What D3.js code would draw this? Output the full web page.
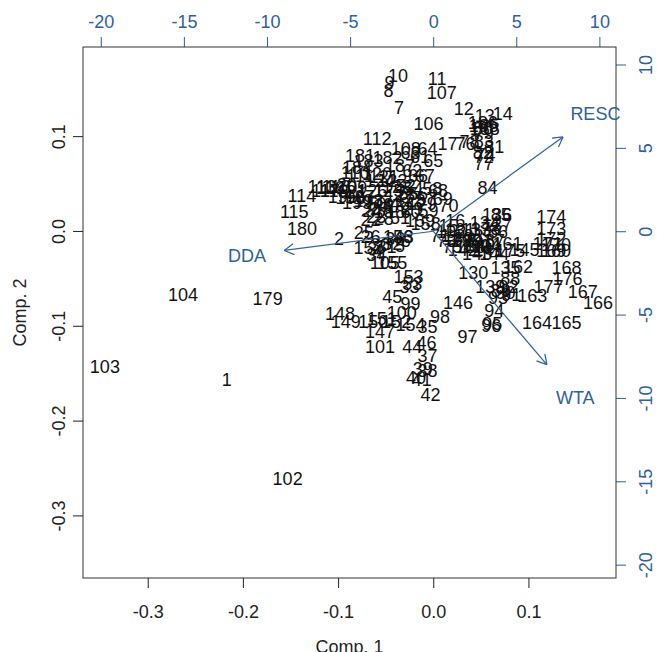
<!DOCTYPE html>
<html>
<head>
<meta charset="utf-8">
<script src="https://cdn.jsdelivr.net/npm/d3@7"></script>
<style>
  body { margin: 0; background: #fff; }
  text { font-family: "Liberation Sans", Arial, sans-serif; }
</style>
</head>
<body>
<script>
var scores = [
  ["1",-0.217,-0.157],["2",-0.099,-0.008],["3",-0.064,-0.019],["4",-0.058,-0.021],
  ["5",-0.035,-0.015],["6",-0.029,-0.010],["7",-0.036,0.130],["8",-0.047,0.148],
  ["9",-0.046,0.157],["10",-0.037,0.164],["11",0.004,0.161],["12",0.032,0.129],
  ["13",0.054,0.122],["14",0.073,0.124],["15",0.016,0.006],["16",0.023,0.011],
  ["17",0.015,0.092],["18",-0.040,0.021],["19",-0.052,0.020],["20",-0.091,0.049],
  ["21",-0.081,0.042],["22",-0.066,0.012],["23",-0.060,0.015],["24",-0.064,0.022],
  ["25",-0.073,-0.002],["26",-0.066,-0.006],["27",-0.056,0.024],["28",-0.052,0.013],
  ["29",-0.021,0.024],["30",-0.056,-0.014],["31",-0.049,-0.016],["32",-0.043,-0.013],
  ["33",-0.025,-0.059],["34",-0.060,-0.025],["35",-0.006,-0.101],["36",-0.040,-0.008],
  ["37",-0.006,-0.131],["38",-0.006,-0.147],["39",-0.011,-0.145],["40",-0.018,-0.155],
  ["41",-0.012,-0.157],["42",-0.003,-0.173],["43",-0.031,-0.006],["44",-0.022,-0.122],
  ["45",-0.043,-0.069],["46",-0.007,-0.118],["47",-0.043,0.027],["48",-0.035,0.029],
  ["49",-0.052,0.028],["50",-0.060,0.029],["51",-0.035,0.014],["52",-0.029,0.048],
  ["53",-0.022,-0.055],["54",-0.021,0.045],["55",-0.026,0.040],["56",-0.016,0.039],
  ["57",-0.007,0.034],["58",-0.001,0.045],["59",-0.005,0.022],["60",-0.024,0.020],
  ["61",-0.014,0.078],["62",-0.022,0.064],["63",-0.024,0.083],["64",-0.006,0.087],
  ["65",0.000,0.074],["66",-0.016,0.058],["67",-0.009,0.058],["68",0.005,0.043],
  ["69",0.010,0.034],["70",0.016,0.027],["71",0.007,-0.005],["72",0.053,0.078],
  ["73",0.014,-0.010],["74",0.055,0.081],["75",0.020,-0.016],["76",0.034,0.092],
  ["77",0.053,0.071],["78",0.038,0.094],["79",0.053,0.104],["80",0.052,0.108],
  ["81",0.064,0.089],["82",0.052,0.083],["83",0.053,0.094],["84",0.057,0.046],
  ["85",0.071,0.017],["86",0.068,-0.001],["87",0.065,-0.010],["88",0.081,-0.050],
  ["89",0.071,-0.063],["90",0.076,-0.065],["91",0.082,-0.067],["92",0.079,-0.059],
  ["93",0.068,-0.070],["94",0.064,-0.084],["95",0.062,-0.098],["96",0.061,-0.100],
  ["97",0.036,-0.111],["98",0.007,-0.090],["99",-0.024,-0.077],["100",-0.033,-0.086],
  ["101",-0.056,-0.122],["102",-0.153,-0.261],["103",-0.345,-0.143],["104",-0.263,-0.067],
  ["105",-0.051,-0.033],["106",-0.005,0.113],["107",0.009,0.146],["108",-0.029,0.087],
  ["109",-0.085,0.046],["110",-0.082,0.062],["111",-0.077,0.058],["112",-0.059,0.098],
  ["113",-0.117,0.047],["114",-0.138,0.037],["115",-0.146,0.020],["116",-0.108,0.046],
  ["117",-0.113,0.043],["118",-0.102,0.047],["119",-0.104,0.043],["120",-0.059,0.061],
  ["121",-0.052,0.057],["122",-0.043,0.053],["123",-0.038,0.047],["124",-0.056,0.053],
  ["125",-0.047,0.043],["126",-0.064,0.043],["127",-0.035,0.037],["128",-0.024,0.032],
  ["129",-0.012,0.029],["130",0.042,-0.044],["131",0.028,0.001],["132",0.037,-0.005],
  ["133",0.045,0.001],["134",0.054,0.009],["135",0.076,-0.039],["136",0.067,0.017],
  ["137",0.067,0.007],["138",0.039,-0.016],["139",0.060,-0.059],["140",0.049,-0.014],
  ["141",0.058,-0.020],["142",0.031,-0.020],["143",0.046,-0.024],["144",0.064,-0.024],
  ["145",0.096,-0.020],["146",0.026,-0.075],["147",-0.056,-0.106],["148",-0.098,-0.087],
  ["149",-0.092,-0.096],["150",-0.063,-0.095],["151",-0.054,-0.092],["152",-0.039,-0.096],
  ["153",-0.026,-0.048],["154",-0.024,-0.099],["155",-0.043,-0.033],["156",-0.037,-0.006],
  ["157",-0.068,-0.017],["158",-0.008,0.008],["159",-0.014,0.011],["160",0.129,-0.021],
  ["161",0.078,-0.013],["162",0.089,-0.038],["163",0.104,-0.068],["164",0.109,-0.097],
  ["165",0.140,-0.097],["166",0.173,-0.076],["167",0.157,-0.064],["168",0.140,-0.039],
  ["169",0.124,-0.021],["170",0.129,-0.014],["171",0.120,-0.013],["172",0.124,-0.008],
  ["173",0.124,0.003],["174",0.124,0.015],["175",0.081,-0.021],["176",0.141,-0.050],
  ["177",0.121,-0.059],["178",0.055,0.003],["179",-0.174,-0.071],["180",-0.138,0.003],
  ["181",-0.077,0.080],["182",-0.048,0.077],["183",-0.068,0.074],["184",-0.080,0.067],
  ["185",0.053,0.111],["186",0.052,0.114],["187",-0.035,0.069],["188",0.054,0.108],
  ["189",0.026,-0.008],["190",0.035,-0.010],["191",0.047,-0.010],["192",0.019,-0.001],
  ["193",0.045,-0.016],["194",0.055,-0.015],["195",-0.095,0.036],["196",-0.087,0.035],
  ["197",-0.077,0.036],["198",-0.068,0.032],["199",-0.080,0.030]
];

// variable loadings (label positions, top/right axis units)
var varNames = ["RESC", "DDA", "WTA"];
var varX = [9.76, -11.2, 8.55];
var varY = [7.07, -1.44, -10.0];

// ticks
var xTicks = [-0.3, -0.2, -0.1, 0.0, 0.1];
var yTicks = [0.1, 0.0, -0.1, -0.2, -0.3];
var x2Ticks = [-20, -15, -10, -5, 0, 5, 10];
var y2Ticks = [10, 5, 0, -5, -10, -15, -20];

var width = 657, height = 652;
var margin = {top: 47, right: 41, bottom: 74, left: 83};
var blue = "#2f619c";
var fontSize = 18;

// plain hyphen minus like R
var fmt1 = d => d.toFixed(1);
var fmt0 = d => String(d);

var svg = d3.select("body").append("svg")
    .attr("width", width)
    .attr("height", height);

var x = d3.scaleLinear().domain([-0.368, 0.192]).range([margin.left, width - margin.right]);
var y = d3.scaleLinear().domain([-0.366, 0.194]).range([height - margin.bottom, margin.top]);
var x2 = d3.scaleLinear().domain([-21.07, 11.0]).range([margin.left, width - margin.right]);
var y2 = d3.scaleLinear().domain([-20.8, 11.05]).range([height - margin.bottom, margin.top]);

function styleAxis(g, color) {
  g.select(".domain").remove();
  g.selectAll(".tick line").attr("stroke", color);
  g.selectAll(".tick text").attr("fill", color)
    .style("font-size", fontSize + "px")
    .style("font-family", "Liberation Sans, Arial, sans-serif");
}

// bottom axis
svg.append("g")
    .attr("transform", `translate(0, ${height - margin.bottom})`)
    .call(d3.axisBottom(x).tickValues(xTicks).tickFormat(fmt1).tickSize(10).tickPadding(17))
    .call(g => styleAxis(g, "#222"));

// left axis, labels rotated
svg.append("g")
    .attr("transform", `translate(${margin.left}, 0)`)
    .call(d3.axisLeft(y).tickValues(yTicks).tickFormat(fmt1).tickSize(10))
    .call(g => styleAxis(g, "#222"))
    .call(g => g.selectAll(".tick text")
        .attr("transform", "rotate(-90)")
        .attr("x", 0).attr("y", -18).attr("dy", 0)
        .style("text-anchor", "middle"));

// top axis
svg.append("g")
    .attr("transform", `translate(0, ${margin.top})`)
    .call(d3.axisTop(x2).tickValues(x2Ticks).tickFormat(fmt0).tickSize(10).tickPadding(9))
    .call(g => styleAxis(g, blue));

// right axis, labels rotated
svg.append("g")
    .attr("transform", `translate(${width - margin.right}, 0)`)
    .call(d3.axisRight(y2).tickValues(y2Ticks).tickFormat(fmt0).tickSize(10))
    .call(g => styleAxis(g, blue))
    .call(g => g.selectAll(".tick text")
        .attr("transform", "rotate(-90)")
        .attr("x", 0).attr("y", 36).attr("dy", 0)
        .style("text-anchor", "middle"));

// box
svg.append("rect")
    .attr("x", margin.left)
    .attr("y", margin.top)
    .attr("width", width - margin.left - margin.right)
    .attr("height", height - margin.top - margin.bottom)
    .attr("fill", "none")
    .attr("stroke", "#333")
    .attr("stroke-width", 1);

// axis titles
svg.append("text")
    .attr("x", (margin.left + width - margin.right) / 2)
    .attr("y", 653)
    .attr("text-anchor", "middle")
    .attr("fill", "#222")
    .style("font-size", fontSize + "px")
    .text("Comp. 1");

svg.append("text")
    .attr("transform", `translate(26, ${(margin.top + height - margin.bottom) / 2}) rotate(-90)`)
    .attr("text-anchor", "middle")
    .attr("fill", "#222")
    .style("font-size", fontSize + "px")
    .text("Comp. 2");

// observation labels
svg.append("g").selectAll("text")
    .data(scores)
    .enter().append("text")
    .attr("x", d => x(d[1]))
    .attr("y", d => y(d[2]))
    .attr("dy", "0.36em")
    .attr("text-anchor", "middle")
    .attr("fill", "#111")
    .style("font-size", fontSize + "px")
    .text(d => d[0]);

// loading arrows (drawn to 0.8 of label position)
var arrows = svg.append("g");
varNames.forEach(function(name, i) {
  var x0 = x2(0), y0 = y2(0);
  var x1 = x2(varX[i] * 0.8), y1 = y2(varY[i] * 0.8);
  arrows.append("line")
      .attr("x1", x0).attr("y1", y0).attr("x2", x1).attr("y2", y1)
      .attr("stroke", blue).attr("stroke-width", 1.2);
  var ang = Math.atan2(y1 - y0, x1 - x0);
  var len = 11, spread = Math.PI / 6;
  [ang + Math.PI - spread, ang + Math.PI + spread].forEach(function(a) {
    arrows.append("line")
        .attr("x1", x1).attr("y1", y1)
        .attr("x2", x1 + len * Math.cos(a)).attr("y2", y1 + len * Math.sin(a))
        .attr("stroke", blue).attr("stroke-width", 1.2);
  });
  arrows.append("text")
      .attr("x", x2(varX[i]))
      .attr("y", y2(varY[i]))
      .attr("dy", "0.36em")
      .attr("text-anchor", "middle")
      .attr("fill", blue)
      .style("font-size", fontSize + "px")
      .text(name);
});
</script>
</body>
</html>
